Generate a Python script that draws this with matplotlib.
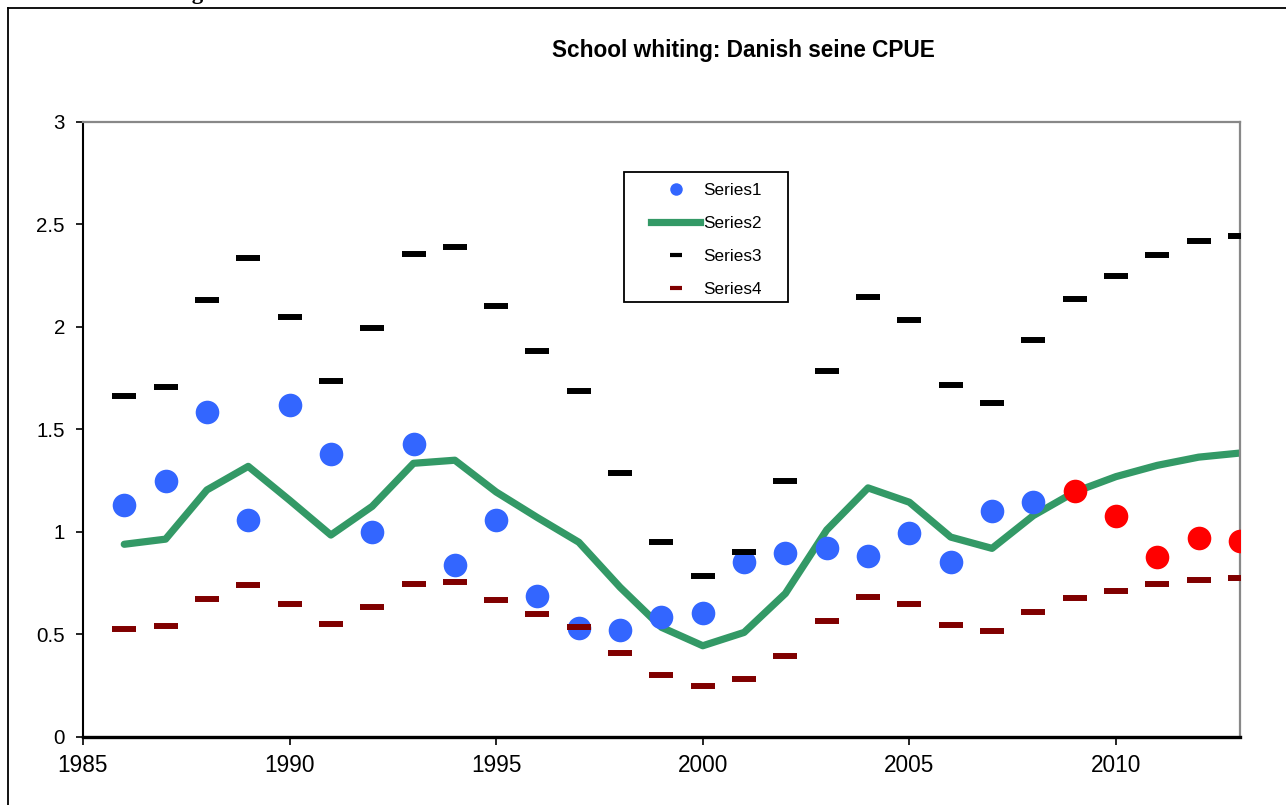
import matplotlib
matplotlib.use("Agg")
import matplotlib.pyplot as plt
from matplotlib.lines import Line2D
from matplotlib.patches import Rectangle
import numpy as np

plt.rcParams["font.family"] = ["Liberation Sans", "DejaVu Sans"]

years = np.arange(1986, 2014)

# CPUE index (dots), last five years shown in red
cpue = [1.13, 1.25, 1.585, 1.06, 1.62, 1.38, 1.0, 1.43, 0.84, 1.06,
        0.69, 0.53, 0.52, 0.585, 0.605, 0.855, 0.895, 0.92, 0.885, 0.995,
        0.855, 1.10, 1.145, 1.20, 1.08, 0.88, 0.97, 0.955]
n_blue = 23

# fitted trend
trend = [0.94, 0.965, 1.205, 1.32, 1.155, 0.985, 1.125, 1.335, 1.35, 1.195,
         1.07, 0.95, 0.73, 0.535, 0.445, 0.51, 0.70, 1.01, 1.215, 1.145,
         0.975, 0.92, 1.08, 1.195, 1.27, 1.325, 1.365, 1.385]

# upper and lower bounds
upper = [1.663, 1.707, 2.13, 2.337, 2.05, 1.737, 1.995, 2.355, 2.39, 2.10,
         1.883, 1.69, 1.29, 0.95, 0.785, 0.90, 1.25, 1.785, 2.146, 2.034,
         1.717, 1.63, 1.937, 2.137, 2.249, 2.35, 2.42, 2.444]
lower = [0.527, 0.54, 0.673, 0.741, 0.649, 0.551, 0.634, 0.746, 0.756, 0.668,
         0.60, 0.537, 0.41, 0.302, 0.249, 0.283, 0.395, 0.566, 0.683, 0.649,
         0.545, 0.515, 0.612, 0.678, 0.712, 0.745, 0.768, 0.775]

series_names = ["Series1", "Series2", "Series3", "Series4"]
ytick_vals = [0, 0.5, 1, 1.5, 2, 2.5, 3]
ytick_labels = ["0", "0.5", "1", "1.5", "2", "2.5", "3"]
xtick_vals = [1985, 1990, 1995, 2000, 2005, 2010]

blue = "#3366FF"
red = "#FF0000"
green = "#339966"
darkred = "#800000"

fig = plt.figure(figsize=(12.86, 8.05), dpi=100)
ax = fig.add_axes([0.0645, 0.0845, 0.8997, 0.7640])

ax.plot(years, trend, color=green, lw=5.2, solid_capstyle="round", zorder=2)
ax.plot(years[:n_blue], cpue[:n_blue], "o", color=blue, ms=17, mew=0, zorder=3)
ax.plot(years[n_blue:], cpue[n_blue:], "o", color=red, ms=17, mew=0, zorder=3)
ax.plot(years, upper, "_", color="black", ms=17, mew=4.3, zorder=4)
ax.plot(years, lower, "_", color=darkred, ms=17, mew=4.3, zorder=4)

ax.set_xlim(1985, 2013)
ax.set_ylim(0, 3)
ax.set_xticks(xtick_vals)
ax.set_yticks(ytick_vals)
ax.set_yticklabels(ytick_labels)
ax.tick_params(axis="both", direction="out", width=1.2, color="black")
ax.tick_params(axis="y", labelsize=14.8, length=5, pad=8)
ax.tick_params(axis="x", labelsize=16.3, length=6, pad=6)

ax.spines["left"].set_linewidth(1.5)
ax.spines["bottom"].set_linewidth(2.4)
for side in ["top", "right"]:
    ax.spines[side].set_color("#888888")
    ax.spines[side].set_linewidth(1.6)

ax.set_title("School whiting: Danish seine CPUE", fontsize=16.3, fontweight="bold",
             x=0.571, y=1.0, pad=47)

# legend: frameless entries inside a hand-placed box
handles = [
    Line2D([], [], ls="none", marker="o", color=blue, ms=9, mew=0),
    Line2D([], [], color=green, lw=5.2),
    Line2D([], [], ls="none", marker="_", color="black", ms=9, mew=3),
    Line2D([], [], ls="none", marker="_", color=darkred, ms=9, mew=3),
]
ax.legend(handles, series_names, loc="upper left", bbox_to_anchor=(0.4909, 0.901),
          fontsize=12.3, frameon=False, handlelength=2.88, handletextpad=0.2,
          labelspacing=1.05, borderpad=0, borderaxespad=0)
ax.add_patch(Rectangle((0.4676, 0.7073), 0.1417, 0.2114, transform=ax.transAxes,
                       fill=False, edgecolor="black", lw=1.3, zorder=5))

# outer frame of the figure panel
fig.add_artist(Line2D([8 / 1286, 8 / 1286], [0, 1 - 8 / 805], transform=fig.transFigure,
                      color="black", lw=1.3))
fig.add_artist(Line2D([8 / 1286, 1], [1 - 8 / 805, 1 - 8 / 805], transform=fig.transFigure,
                      color="black", lw=1.3))
fig.text(203 / 1286, 1 + 1 / 805, "School whiting", ha="right", va="baseline",
         family="Liberation Serif", fontweight="bold", fontsize=16.5)

fig.savefig("out.png", dpi=100)
